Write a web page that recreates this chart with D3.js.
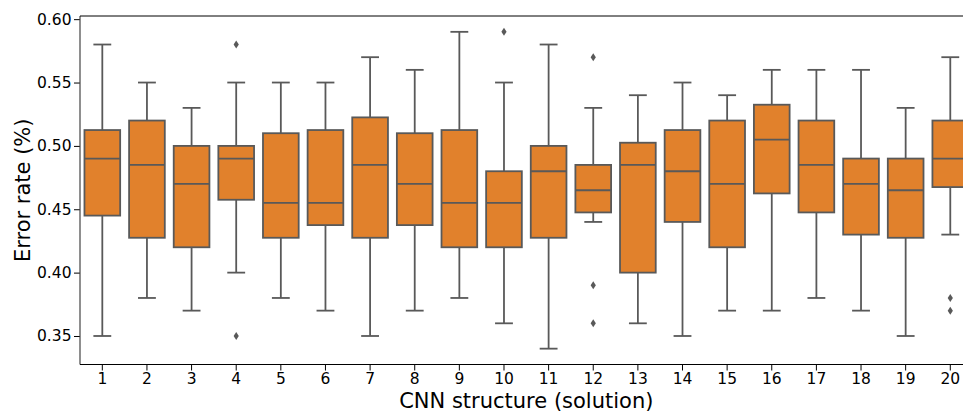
<!DOCTYPE html>
<html>
<head>
<meta charset="utf-8">
<script src="https://cdn.jsdelivr.net/npm/d3@7"></script>
<style>
  html, body { margin: 0; padding: 0; background: #fff; }
  text { font-family: "DejaVu Sans", sans-serif; }
</style>
</head>
<body>
<svg id="chart" width="963" height="412"></svg>
<script>
// ---- data ----
const categories = ["1","2","3","4","5","6","7","8","9","10","11","12","13","14","15","16","17","18","19","20"];
const whiskerLow  = [0.35, 0.38, 0.37, 0.40, 0.38, 0.37, 0.35, 0.37, 0.38, 0.36, 0.34, 0.44, 0.36, 0.35, 0.37, 0.37, 0.38, 0.37, 0.35, 0.43];
const q1Values    = [0.445, 0.4275, 0.42, 0.4575, 0.4275, 0.4375, 0.4275, 0.4375, 0.42, 0.42, 0.4275, 0.4475, 0.40, 0.44, 0.42, 0.4625, 0.4475, 0.43, 0.4275, 0.4675];
const medianValues= [0.49, 0.485, 0.47, 0.49, 0.455, 0.455, 0.485, 0.47, 0.455, 0.455, 0.48, 0.465, 0.485, 0.48, 0.47, 0.505, 0.485, 0.47, 0.465, 0.49];
const q3Values    = [0.5125, 0.52, 0.50, 0.50, 0.51, 0.5125, 0.5225, 0.51, 0.5125, 0.48, 0.50, 0.485, 0.5025, 0.5125, 0.52, 0.5325, 0.52, 0.49, 0.49, 0.52];
const whiskerHigh = [0.58, 0.55, 0.53, 0.55, 0.55, 0.55, 0.57, 0.56, 0.59, 0.55, 0.58, 0.53, 0.54, 0.55, 0.54, 0.56, 0.56, 0.56, 0.53, 0.57];
const outliers    = [[], [], [], [0.58, 0.35], [], [], [], [], [], [0.59], [], [0.57, 0.39, 0.36], [], [], [], [], [], [], [], [0.38, 0.37]];
const yTicks = [0.35, 0.40, 0.45, 0.50, 0.55, 0.60];
const xLabel = "CNN structure (solution)";
const yLabel = "Error rate (%)";

// ---- layout ----
const svg = d3.select("#chart");
const mLeft = 80, mRight = 972.6, mTop = 16, mBottom = 364.5;
const fill = "#e1812c", lineCol = "#595959";

const x = d3.scaleBand().domain(categories).range([mLeft, mRight]).paddingInner(0).paddingOuter(0);
const y = d3.scaleLinear().domain([0.3275, 0.6025]).range([mBottom, mTop]);
const bw = x.bandwidth() * 0.8;
const cx = c => x(c) + x.bandwidth() / 2;

// boxes
const g = svg.append("g");
categories.forEach((c, i) => {
  const xc = cx(c);
  const bg = g.append("g");
  bg.append("line").attr("x1", xc).attr("x2", xc).attr("y1", y(q3Values[i])).attr("y2", y(whiskerHigh[i]))
    .attr("stroke", lineCol).attr("stroke-width", 1.8);
  bg.append("line").attr("x1", xc).attr("x2", xc).attr("y1", y(q1Values[i])).attr("y2", y(whiskerLow[i]))
    .attr("stroke", lineCol).attr("stroke-width", 1.8);
  [whiskerHigh[i], whiskerLow[i]].forEach(v => {
    bg.append("line").attr("x1", xc - bw / 4).attr("x2", xc + bw / 4).attr("y1", y(v)).attr("y2", y(v))
      .attr("stroke", lineCol).attr("stroke-width", 1.8);
  });
  bg.append("rect").attr("x", xc - bw / 2).attr("width", bw)
    .attr("y", y(q3Values[i])).attr("height", y(q1Values[i]) - y(q3Values[i]))
    .attr("fill", fill).attr("stroke", lineCol).attr("stroke-width", 1.8);
  bg.append("line").attr("x1", xc - bw / 2).attr("x2", xc + bw / 2)
    .attr("y1", y(medianValues[i])).attr("y2", y(medianValues[i]))
    .attr("stroke", lineCol).attr("stroke-width", 1.8);
  outliers[i].forEach(v => {
    const yy = y(v);
    bg.append("path").attr("d", `M${xc},${yy - 4} L${xc + 2.6},${yy} L${xc},${yy + 4} L${xc - 2.6},${yy} Z`)
      .attr("fill", lineCol);
  });
});

// axes
const yAxis = d3.axisLeft(y).tickValues(yTicks).tickFormat(d3.format(".2f")).tickSize(6).tickPadding(2.5);
const ya = svg.append("g").attr("transform", `translate(${mLeft},0)`).call(yAxis);
ya.select(".domain").remove();
ya.selectAll(".tick line").attr("stroke", "#000").attr("stroke-width", 1);
ya.selectAll(".tick text").attr("font-size", "15.5px").attr("fill", "#000").style("font-family", "DejaVu Sans");

const xAxis = d3.axisBottom(x).tickSize(6).tickPadding(2.5);
const xa = svg.append("g").attr("transform", `translate(0,${mBottom})`).call(xAxis);
xa.select(".domain").remove();
xa.selectAll(".tick line").attr("stroke", "#000").attr("stroke-width", 1);
xa.selectAll(".tick text").attr("font-size", "15.5px").attr("fill", "#000").style("font-family", "DejaVu Sans");

// spines
svg.append("line").attr("x1", mLeft).attr("x2", mLeft).attr("y1", mTop).attr("y2", mBottom).attr("stroke", "#444").attr("stroke-width", 1.2);
svg.append("line").attr("x1", mLeft).attr("x2", mRight).attr("y1", mBottom).attr("y2", mBottom).attr("stroke", "#000").attr("stroke-width", 1);
svg.append("line").attr("x1", mLeft).attr("x2", mRight).attr("y1", mTop).attr("y2", mTop).attr("stroke", "#000").attr("stroke-width", 1);
svg.append("line").attr("x1", mRight).attr("x2", mRight).attr("y1", mTop).attr("y2", mBottom).attr("stroke", "#000").attr("stroke-width", 1);

// labels
svg.append("text").attr("x", (mLeft + mRight) / 2).attr("y", 407.5).attr("text-anchor", "middle")
  .attr("font-size", "21px").attr("fill", "#000").text(xLabel);
svg.append("text").attr("transform", `translate(29.5,${(mTop + mBottom) / 2}) rotate(-90)`).attr("text-anchor", "middle")
  .attr("font-size", "21px").attr("fill", "#000").text(yLabel);
</script>
</body>
</html>
